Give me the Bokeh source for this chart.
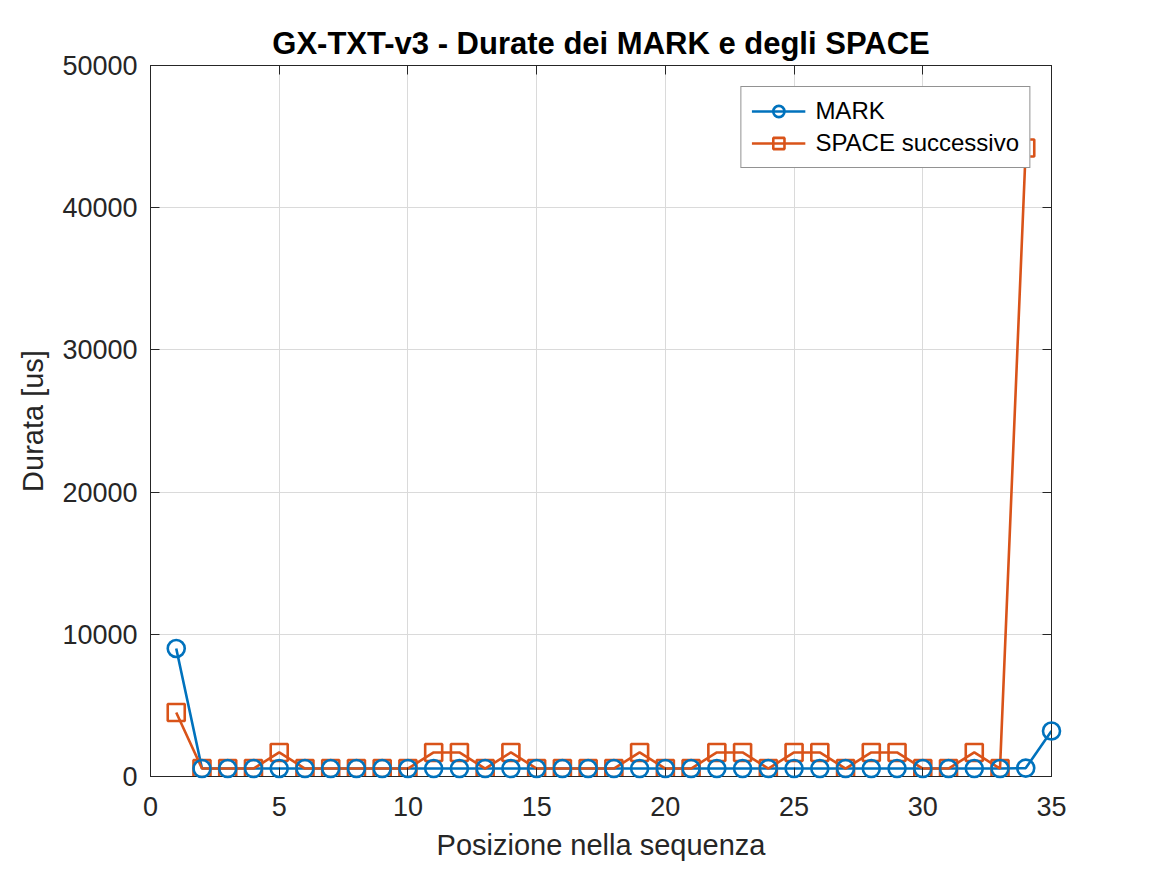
from bokeh.plotting import figure
from bokeh.models import Range1d, LinearAxis, FixedTicker, Legend, LegendItem
from bokeh.embed import file_html
from bokeh.resources import INLINE

# Data
mark_x = list(range(1, 36))
mark_y = [9000] + [560] * 32 + [590, 3200]
space_x = list(range(1, 35))
space_hi = {5, 11, 12, 14, 19, 22, 23, 25, 26, 28, 29, 32}
space_y = [4500] + [1690 if i in space_hi else 560 for i in range(2, 34)] + [44200]

x_ticks = [0, 5, 10, 15, 20, 25, 30, 35]
y_ticks = [0, 10000, 20000, 30000, 40000, 50000]

BLUE = "#0072BD"
ORANGE = "#D95319"
AX = "#262626"
FONT = "Liberation Sans"

p = figure(width=1145, height=863, output_backend="svg", toolbar_location=None,
           x_range=Range1d(0, 35), y_range=Range1d(0, 50000),
           min_border_left=150, min_border_right=94, min_border_top=65, min_border_bottom=79,
           title="GX-TXT-v3 - Durate dei MARK e degli SPACE")
p.outline_line_color = AX
p.outline_line_width = 1
p.background_fill_color = "white"
p.border_fill_color = "white"

p.title.text_font = FONT
p.title.text_font_size = "31px"
p.title.text_font_style = "bold"
p.title.text_color = "black"
p.title.align = "center"
p.title.offset = 0
p.title.standoff = 10

for ax, ticks in ((p.xaxis[0], x_ticks), (p.yaxis[0], y_ticks)):
    ax.ticker = FixedTicker(ticks=ticks)
    ax.major_tick_in = 9
    ax.major_tick_out = 0
    ax.minor_tick_in = 0
    ax.minor_tick_out = 0
    ax.axis_line_color = AX
    ax.major_tick_line_color = AX
    ax.major_label_text_font = FONT
    ax.major_label_text_font_size = "27px"
    ax.major_label_text_color = AX
    ax.axis_label_text_font = FONT
    ax.axis_label_text_font_size = "29px"
    ax.axis_label_text_font_style = "normal"
    ax.axis_label_text_color = AX

p.xaxis[0].axis_label = "Posizione nella sequenza"
p.yaxis[0].axis_label = "Durata [us]"
p.xaxis[0].major_label_standoff = 20
p.yaxis[0].major_label_standoff = 13
p.xaxis[0].axis_label_standoff = 10
p.yaxis[0].axis_label_standoff = 10

for loc, ticks in (("right", y_ticks), ("above", x_ticks)):
    a = LinearAxis(ticker=FixedTicker(ticks=ticks))
    a.major_tick_in = 9
    a.major_tick_out = 0
    a.minor_tick_in = 0
    a.minor_tick_out = 0
    a.axis_line_color = AX
    a.major_tick_line_color = AX
    a.major_label_text_font_size = "0px"
    a.major_label_text_alpha = 0
    a.major_label_standoff = 0
    p.add_layout(a, loc)

p.xgrid.ticker = FixedTicker(ticks=x_ticks)
p.ygrid.ticker = FixedTicker(ticks=y_ticks)
p.grid.grid_line_color = "#DADADA"
p.grid.grid_line_width = 1

l1 = p.line(mark_x, mark_y, line_color=BLUE, line_width=2.6)
m1 = p.scatter(mark_x, mark_y, marker="circle", size=17, fill_color=None,
               line_color=BLUE, line_width=2.6)
m1.level = "overlay"
l2 = p.line(space_x, space_y, line_color=ORANGE, line_width=2.6)
m2 = p.scatter(space_x, space_y, marker="square", size=17, fill_color=None,
               line_color=ORANGE, line_width=2.6)

legend = Legend(items=[LegendItem(label="MARK", renderers=[l1, m1]),
                       LegendItem(label="SPACE successivo", renderers=[l2, m2])],
                location="top_right")
legend.label_text_font = FONT
legend.label_text_font_size = "24px"
legend.label_text_color = "black"
legend.border_line_color = AX
legend.border_line_width = 1
legend.background_fill_alpha = 1
legend.glyph_width = 54
legend.glyph_height = 28
legend.label_standoff = 10
legend.spacing = 4
legend.padding = 10
legend.margin = 21
p.add_layout(legend)

open("out.html", "w").write(file_html(p, INLINE))
